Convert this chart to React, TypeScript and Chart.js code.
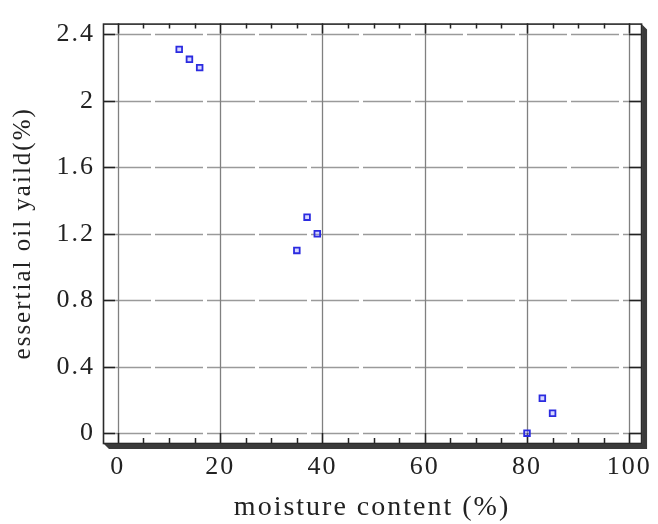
import React, { useEffect, useRef } from "react";
import { Chart, registerables } from "chart.js";

Chart.register(...registerables);

const moisture = [12, 14, 16, 35, 37, 39, 80, 83, 85];
const oilYield = [2.31, 2.25, 2.2, 1.1, 1.3, 1.2, 0, 0.21, 0.12];
const xTicks = [0, 20, 40, 60, 80, 100];
const yTicks = [0, 0.4, 0.8, 1.2, 1.6, 2, 2.4];
const xMinorTicks = [5, 10, 15, 25, 30, 35, 45, 50, 55, 65, 70, 75, 85, 90, 95];
const xTitle = "moisture content (%)";
const yTitle = "essertial oil yaild(%)";

const framePlugin = {
  id: "framePlugin",
  beforeDraw(chart: any) {
    (chart.ctx as any).letterSpacing = "2px";
  },
  beforeDatasetsDraw(chart: any) {
    const { ctx, chartArea, scales } = chart;
    const { left, right, top, bottom } = chartArea;
    const xs = scales.x;
    const ys = scales.y;
    ctx.save();
    ctx.strokeStyle = "#9a9a9a";
    ctx.lineWidth = 1.3;
    ctx.setLineDash([48, 4]);
    yTicks.forEach((v) => {
      const py = Math.round(ys.getPixelForValue(v)) + 0.5;
      ctx.beginPath();
      ctx.moveTo(left, py);
      ctx.lineTo(right, py);
      ctx.stroke();
    });
    ctx.setLineDash([]);
    ctx.strokeStyle = "#808080";
    ctx.lineWidth = 1.3;
    xTicks.forEach((v) => {
      const px = Math.round(xs.getPixelForValue(v)) + 0.5;
      ctx.beginPath();
      ctx.moveTo(px, top);
      ctx.lineTo(px, bottom);
      ctx.stroke();
    });
    ctx.strokeStyle = "#222";
    ctx.lineWidth = 1.5;
    xMinorTicks.forEach((v) => {
      const px = Math.round(xs.getPixelForValue(v)) + 0.5;
      ctx.beginPath();
      ctx.moveTo(px, bottom);
      ctx.lineTo(px, bottom - 5);
      ctx.moveTo(px, top);
      ctx.lineTo(px, top + 5);
      ctx.stroke();
    });
    xTicks.forEach((v) => {
      const px = Math.round(xs.getPixelForValue(v)) + 0.5;
      ctx.beginPath();
      ctx.moveTo(px, bottom);
      ctx.lineTo(px, bottom - 10);
      ctx.moveTo(px, top);
      ctx.lineTo(px, top + 10);
      ctx.stroke();
    });
    yTicks.forEach((v) => {
      const py = Math.round(ys.getPixelForValue(v)) + 0.5;
      ctx.beginPath();
      ctx.moveTo(left, py);
      ctx.lineTo(left + 12, py);
      ctx.moveTo(right, py);
      ctx.lineTo(right - 12, py);
      ctx.stroke();
    });
    ctx.restore();
  },
  afterDraw(chart: any) {
    const { ctx, chartArea } = chart;
    const { left, right, top, bottom } = chartArea;
    ctx.save();
    ctx.strokeStyle = "#2a2a2a";
    ctx.lineWidth = 1.6;
    ctx.strokeRect(left + 0.5, top + 0.5, right - left, bottom - top);
    ctx.fillStyle = "#3a3a3a";
    ctx.beginPath();
    ctx.moveTo(left + 1, bottom + 1);
    ctx.lineTo(right + 1, bottom + 1);
    ctx.lineTo(right + 1, top + 1);
    ctx.lineTo(right + 6, top + 6);
    ctx.lineTo(right + 6, bottom + 6);
    ctx.lineTo(left + 6, bottom + 6);
    ctx.closePath();
    ctx.fill();
    ctx.restore();
  },
};

export default function App() {
  const canvasRef = useRef<HTMLCanvasElement | null>(null);

  useEffect(() => {
    if (!canvasRef.current) return;
    const chart = new Chart(canvasRef.current, {
      type: "scatter",
      data: {
        datasets: [
          {
            label: "yield",
            data: moisture.map((x, i) => ({ x, y: oilYield[i] })),
            pointStyle: "rect",
            pointRadius: 4,
            borderColor: "#2b2be0",
            backgroundColor: "rgba(140,140,255,0.35)",
            borderWidth: 1.8,
          },
        ],
      },
      options: {
        responsive: false,
        animation: false,
        layout: { padding: { top: 16, right: 9, left: 0, bottom: 0 } },
        plugins: {
          legend: { display: false },
          tooltip: { enabled: false },
        },
        scales: {
          x: {
            type: "linear",
            min: -2.9,
            max: 102.3,
            grid: { display: false, drawTicks: false },
            border: { display: false },
            afterBuildTicks: (s: any) => {
              s.ticks = xTicks.map((v) => ({ value: v }));
            },
            afterFit: (s: any) => {
              s.height = 81;
            },
            ticks: {
              padding: 9,
              color: "#222",
              font: { family: "'Liberation Serif', serif", size: 26 },
              maxRotation: 0,
              callback: (v: any) => String(v),
            },
            title: {
              display: true,
              text: xTitle,
              color: "#222",
              font: { family: "'Liberation Serif', serif", size: 28 },
              padding: { top: 0, bottom: 0 },
            },
          },
          y: {
            type: "linear",
            min: -0.059,
            max: 2.465,
            grid: { display: false, drawTicks: false },
            border: { display: false },
            afterBuildTicks: (s: any) => {
              s.ticks = yTicks.map((v) => ({ value: v }));
            },
            afterFit: (s: any) => {
              s.width = 103;
            },
            ticks: {
              padding: 8,
              color: "#222",
              font: { family: "'Liberation Serif', serif", size: 26 },
              callback: (v: any) => String(Math.round(v * 10) / 10),
            },
            title: {
              display: true,
              text: yTitle,
              color: "#222",
              font: { family: "'Liberation Serif', serif", size: 25 },
              padding: { top: 8, bottom: 0 },
            },
          },
        },
      },
      plugins: [framePlugin],
    });
    return () => chart.destroy();
  }, []);

  return (
    <div style={{ position: "absolute", left: 0, top: 0, width: 658, height: 524, background: "#fff" }}>
      <canvas ref={canvasRef} width={658} height={524} />
    </div>
  );
}
